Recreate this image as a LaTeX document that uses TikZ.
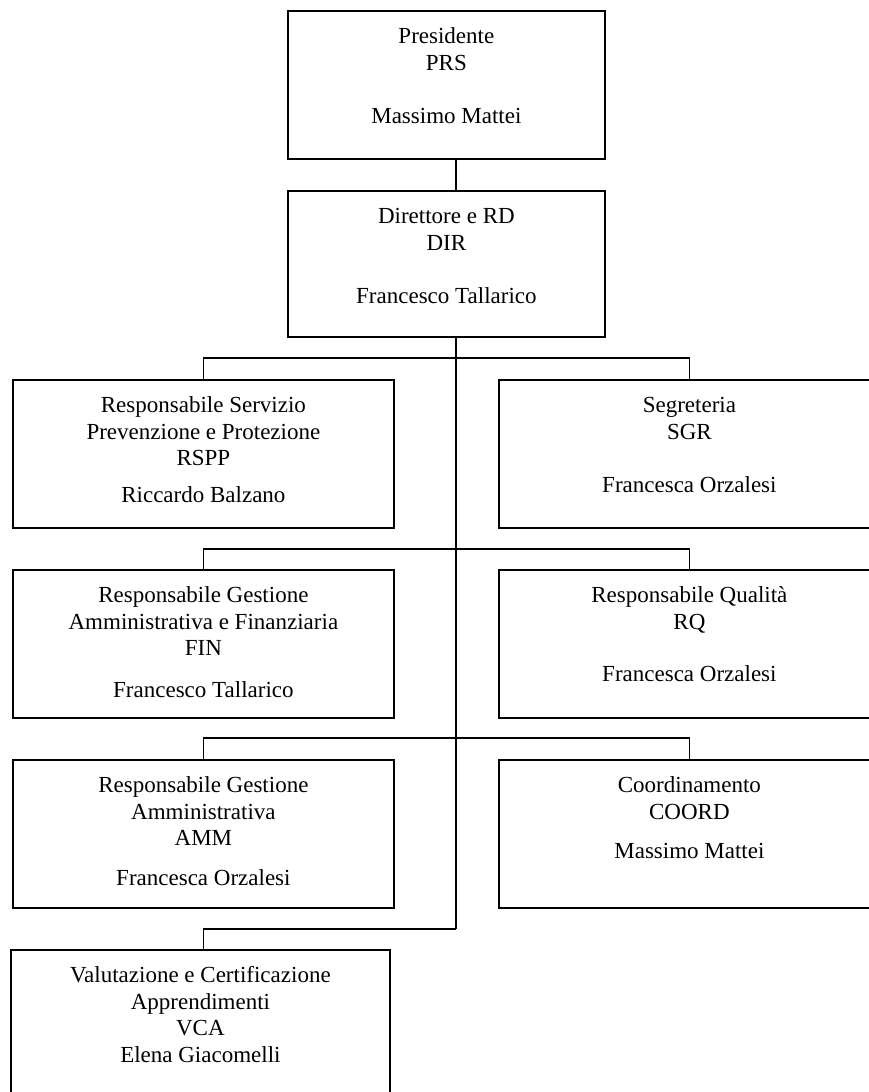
\documentclass[tikz,border=0pt]{standalone}
\usepackage{fontspec}
\setmainfont{Liberation Serif}
\usetikzlibrary{positioning}

% box of fixed size, text from the top
\newcommand{\cella}[3]{\parbox[c][#2][t]{#1}{\centering\rule{0pt}{33pt}#3}}

\begin{document}
\begin{tikzpicture}[x=1pt, y=-1pt,
	every node/.style={font=\fontsize{23}{26.5}\selectfont},
	unita/.style={draw, line width=1.8pt, inner sep=0pt, anchor=north west},
	ramo/.style={line width=1.8pt}]

\useasboundingbox (0,0) rectangle (869,1092);
\clip (0,0) rectangle (869,1092);

\node[unita] (prs) at (287,10) {\cella{317pt}{148pt}{Presidente\\ PRS\\[27pt] Massimo Mattei}};
\node[unita] (dir) at (287,190) {\cella{317pt}{146pt}{Direttore e RD\\ DIR\\[27pt] Francesco Tallarico}};

\node[unita] (rspp) at (12,379) {\cella{381pt}{148pt}{Responsabile Servizio\\ Prevenzione e Protezione\\ RSPP\\[10pt] Riccardo Balzano}};
\node[unita] (sgr) at (498,379) {\cella{381pt}{148pt}{Segreteria\\ SGR\\[27pt] Francesca Orzalesi}};

\node[unita] (fin) at (12,569) {\cella{381pt}{148pt}{Responsabile Gestione\\ Amministrativa e Finanziaria\\ FIN\\[15pt] Francesco Tallarico}};
\node[unita] (rq) at (498,569) {\cella{381pt}{148pt}{Responsabile Qualità\\ RQ\\[26pt] Francesca Orzalesi}};

\node[unita] (amm) at (12,759) {\cella{381pt}{148pt}{Responsabile Gestione\\ Amministrativa\\ AMM\\[13pt] Francesca Orzalesi}};
\node[unita] (coord) at (498,759) {\cella{381pt}{148pt}{Coordinamento\\ COORD\\[13pt] Massimo Mattei}};

\node[unita] (vca) at (10,949) {\cella{379pt}{148pt}{Valutazione e Certificazione\\ Apprendimenti\\ VCA\\ Elena Giacomelli}};

% connectors
\coordinate (tronco) at (456,0);
\coordinate (r1) at (456,358);
\coordinate (r2) at (456,549);
\coordinate (r3) at (456,738);
\coordinate (r4) at (456,929);

\draw[ramo] (prs.south -| tronco) -- (dir.north -| tronco);
\draw[ramo] (dir.south -| tronco) -- (r4);
\draw[ramo] (rspp.north) |- (r1) -| (sgr.north);
\draw[ramo] (fin.north) |- (r2) -| (rq.north);
\draw[ramo] (amm.north) |- (r3) -| (coord.north);
\draw[ramo] (vca.north -| amm.north) |- (r4);
\end{tikzpicture}
\end{document}
